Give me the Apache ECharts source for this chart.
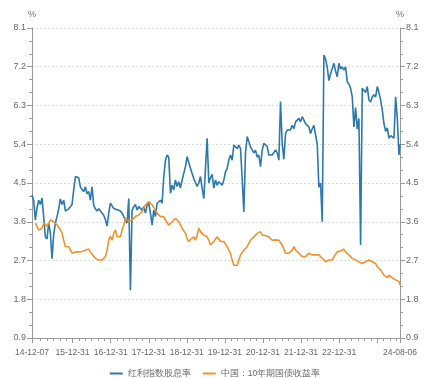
<!DOCTYPE html>
<html><head><meta charset="utf-8">
<script src="https://cdn.jsdelivr.net/npm/echarts@6/dist/echarts.min.js"></script>
<style>html,body{margin:0;padding:0;background:#fff}#c{width:430px;height:378px}</style>
</head><body><div id="c"></div>
<script>
const startDate = '2014-12-07';
const endDate = '2024-08-06';
const stepDays = 16;
const seriesNames = ['红利指数股息率', '中国：10年期国债收益率'];
const labelDates = ['2014-12-07','2015-12-31','2016-12-31','2017-12-31','2018-12-31','2019-12-31','2020-12-31','2021-12-31','2022-12-31','2024-08-06'];
const labelTexts = ['14-12-07','15-12-31','16-12-31','17-12-31','18-12-31','19-12-31','20-12-31','21-12-31','22-12-31','24-08-06'];
const majorTickDates = ['2014-12-07','2015-12-31','2016-12-31','2017-12-31','2018-12-31','2019-12-31','2020-12-31','2021-12-31','2022-12-31','2023-12-31','2024-08-06'];
const yMin = 0.9, yMax = 8.1, yStep = 0.9;

const dividendYield = [
4.22,4.10,3.64,3.92,4.10,4.00,4.15,3.72,3.25,3.20,
3.57,3.34,2.74,3.30,3.57,3.72,3.90,4.13,4.00,4.10,
3.85,3.87,3.90,3.95,4.00,4.34,4.65,4.68,4.62,4.41,
4.35,4.30,4.41,4.25,4.30,4.10,4.41,3.98,3.90,3.85,
3.90,3.85,3.88,3.75,3.65,3.50,3.80,4.03,4.00,3.91,
3.91,3.88,3.85,3.85,3.80,3.72,3.70,3.57,4.14,2.01,
3.87,3.95,4.00,3.87,3.95,3.91,3.87,3.95,3.80,3.98,
4.03,3.80,3.52,3.87,3.72,4.03,4.07,4.10,4.03,4.65,
5.03,5.15,5.10,4.26,4.45,4.34,4.57,4.42,4.53,4.38,
4.57,4.53,4.88,5.11,5.07,4.84,4.72,4.60,4.57,4.42,
4.50,4.65,4.38,4.14,4.84,5.54,4.50,4.62,4.70,4.38,
4.57,4.45,4.53,4.50,4.45,4.57,4.76,4.84,5.03,5.15,
5.03,5.38,5.38,5.30,5.38,5.30,4.60,3.83,5.20,5.58,
5.46,5.34,5.30,5.20,5.26,5.10,5.15,4.88,5.26,5.42,
5.42,5.35,5.15,5.12,5.15,5.15,5.27,5.20,5.03,6.39,
5.42,5.05,5.65,5.73,5.76,5.73,5.84,5.76,5.92,5.96,
6.00,5.92,6.04,5.96,5.88,5.92,5.80,5.65,5.76,5.84,
5.81,5.40,4.40,4.50,3.60,7.47,7.38,7.19,6.88,7.04,
7.07,7.28,7.10,6.97,7.28,7.15,7.20,7.12,7.20,6.85,
6.80,6.70,6.50,5.80,6.25,5.75,6.00,3.06,6.70,6.70,
6.60,6.74,6.43,6.38,6.50,6.55,6.50,6.74,6.60,6.43,
6.20,5.88,5.70,5.78,5.54,5.60,5.62,5.54,6.50,6.00,
5.15,5.40
];
const bondYield = [
'-','-',3.57,3.53,3.41,3.38,3.45,3.57,3.53,3.50,
3.57,3.64,3.60,3.60,3.57,3.53,3.50,3.41,3.34,3.17,
3.02,3.05,3.02,2.94,2.87,2.86,2.90,2.88,2.90,2.90,
2.91,2.90,2.94,2.95,2.97,2.90,2.87,2.80,2.75,2.77,
2.71,2.75,2.71,2.71,2.79,2.94,3.17,3.27,3.17,3.33,
3.41,3.25,3.29,3.25,3.41,3.52,3.68,3.64,3.60,3.60,
3.64,3.68,3.72,3.68,3.76,3.76,3.83,3.87,3.99,4.03,
4.07,4.03,3.99,3.95,3.87,3.80,3.76,3.72,3.68,3.72,
3.64,3.60,3.52,3.56,3.60,3.64,3.68,3.64,3.60,3.52,
3.45,3.41,3.33,3.21,3.14,3.19,3.17,3.25,3.17,3.29,
3.45,3.37,3.33,3.29,3.29,3.25,3.17,3.06,3.10,3.14,
3.17,3.25,3.21,3.14,3.10,3.14,3.10,3.02,2.94,2.87,
2.71,2.59,2.63,2.59,2.71,2.83,2.87,2.94,2.90,3.02,
3.10,3.17,3.21,3.25,3.29,3.33,3.37,3.37,3.29,3.25,
3.28,3.31,3.25,3.21,3.17,3.17,3.18,3.14,3.17,3.14,
3.06,3.02,2.87,2.90,2.87,2.90,2.94,3.02,2.94,2.90,
2.87,2.83,2.79,2.75,2.79,2.83,2.87,2.83,2.83,2.87,
2.83,2.79,2.83,2.79,2.75,2.71,2.67,2.67,2.71,2.75,
2.71,2.79,2.83,2.90,2.94,2.92,2.94,2.96,2.90,2.87,
2.83,2.79,2.75,2.71,2.71,2.68,2.67,2.65,2.63,2.60,
2.67,2.70,2.71,2.69,2.67,2.65,2.63,2.56,2.52,2.48,
2.44,2.36,2.32,2.30,2.36,2.32,2.30,2.32,2.25,2.25,
2.21,2.13
];

function ts(s){ const p = s.split('-').map(Number); return Date.UTC(p[0], p[1]-1, p[2]); }
const tStart = ts(startDate), tEnd = ts(endDate), DAY = 86400000;
const dates = dividendYield.map((_, i) => Math.min(tStart + i * stepDays * DAY, tEnd));
const minorTicks = [];
for (let y = 2015; y <= 2024; y++) {
  for (const m of [2,4,6,8,10,12]) {
    const t = Date.UTC(y, m, 0);
    if (t > tStart && t < tEnd) minorTicks.push(t);
  }
}
const labelVals = labelDates.map(ts);
const majorVals = majorTickDates.map(ts);

const axisColor = '#9a9a9a', textColor = '#666', fontFam = 'Liberation Sans, Arial, sans-serif';
function yAxisDef(pos, split){
  return {
    type: 'value', position: pos, min: yMin, max: yMax, interval: yStep,
    name: '%', nameLocation: 'end', nameGap: 9,
    nameTextStyle: {color: textColor, fontSize: 9, fontFamily: fontFam, align: 'center'},
    axisLine: {show: true, lineStyle: {color: axisColor, width: 1}},
    axisTick: {show: true, length: 5, lineStyle: {color: axisColor}},
    minorTick: {show: true, splitNumber: 3, length: 3, lineStyle: {color: axisColor}},
    axisLabel: {color: textColor, fontSize: 9, fontFamily: fontFam, margin: 6, formatter: v => v.toFixed(1)},
    splitLine: {show: split, lineStyle: {color: '#dcdcdc', type: [2, 2], width: 1}},
    minorSplitLine: {show: false}
  };
}
const chart = echarts.init(document.getElementById('c'));
chart.setOption({
  animation: false,
  backgroundColor: '#fff',
  grid: {left: 32, right: 30, top: 28, bottom: 40, outerBoundsMode: 'none'},
  legend: {
    top: 364, left: 'center', icon: 'rect', itemWidth: 13, itemHeight: 2, itemGap: 12,
    textStyle: {color: textColor, fontSize: 8.5, fontFamily: fontFam},
    data: seriesNames
  },
  xAxis: [
    {
      type: 'value', min: tStart, max: tEnd, position: 'bottom',
      axisLine: {show: true, lineStyle: {color: axisColor, width: 1}},
      axisTick: {show: true, customValues: minorTicks, length: 3, lineStyle: {color: axisColor}},
      axisLabel: {show: false},
      splitLine: {show: false}
    },
    {
      type: 'value', min: tStart, max: tEnd, position: 'bottom', offset: 0,
      axisLine: {show: false},
      axisTick: {show: true, customValues: majorVals, length: 5, lineStyle: {color: axisColor}},
      axisLabel: {
        customValues: labelVals, color: textColor, fontSize: 8.5, fontFamily: fontFam, margin: 10,
        hideOverlap: false, showMinLabel: true, showMaxLabel: true,
        formatter: v => { const i = labelVals.indexOf(v); return i >= 0 ? labelTexts[i] : ''; }
      },
      splitLine: {show: false}
    }
  ],
  yAxis: [yAxisDef('left', true), yAxisDef('right', false)],
  series: [
    {
      name: seriesNames[0], type: 'line', xAxisIndex: 0, yAxisIndex: 0, showSymbol: false,
      data: dates.map((d, i) => [d, dividendYield[i]]),
      lineStyle: {color: '#2b79ad', width: 1.6}, itemStyle: {color: '#2b79ad'}
    },
    {
      name: seriesNames[1], type: 'line', xAxisIndex: 0, yAxisIndex: 0, showSymbol: false,
      data: dates.map((d, i) => [d, bondYield[i]]),
      lineStyle: {color: '#f2922d', width: 1.6}, itemStyle: {color: '#f2922d'}
    }
  ]
});
</script></body></html>
